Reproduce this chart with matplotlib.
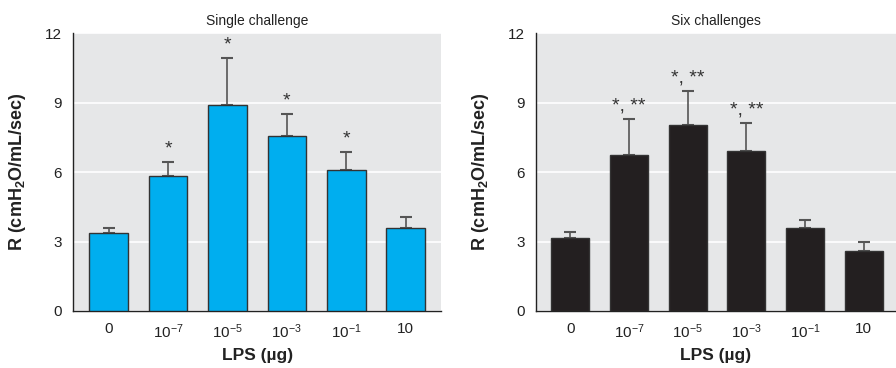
import matplotlib
matplotlib.use("Agg")
import matplotlib.pyplot as plt
from matplotlib import font_manager

names = [f.name for f in font_manager.fontManager.ttflist]
narrow = "Liberation Sans Narrow" if "Liberation Sans Narrow" in names else "Liberation Sans"
plt.rcParams['font.family'] = [narrow, 'DejaVu Sans']
plt.rcParams['mathtext.fontset'] = 'custom'
plt.rcParams['mathtext.rm'] = narrow
plt.rcParams['mathtext.it'] = narrow + ':italic'
plt.rcParams['mathtext.bf'] = narrow + ':bold'

doses = ["0", "$\\mathrm{10^{-7}}$", "$\\mathrm{10^{-5}}$", "$\\mathrm{10^{-3}}$",
         "$\\mathrm{10^{-1}}$", "10"]

single_mean = [3.37, 5.83, 8.9, 7.55, 6.07, 3.57]
single_err = [0.23, 0.62, 2.02, 0.95, 0.78, 0.49]
single_marks = ["", "*", "*", "*", "*", ""]

six_mean = [3.16, 6.75, 8.04, 6.92, 3.6, 2.57]
six_err = [0.26, 1.52, 1.46, 1.21, 0.31, 0.39]
six_marks = ["", "*, **", "*, **", "*, **", "", ""]

fig = plt.figure(figsize=(8.96, 3.68), dpi=100)
ax1 = fig.add_axes([0.0815, 0.155, 0.411, 0.755])
ax2 = fig.add_axes([0.598, 0.155, 0.402, 0.755])

panels = [
    (ax1, single_mean, single_err, single_marks, "#00aeef", "Single challenge", (-0.6, 5.6)),
    (ax2, six_mean, six_err, six_marks, "#231f20", "Six challenges", (-0.59, 5.55)),
]

for ax, mean, err, marks, color, title, xl in panels:
    ax.set_facecolor("#e6e7e8")
    x = range(len(mean))
    ax.bar(x, mean, width=0.65, color=color, edgecolor="#333333", linewidth=1.0, zorder=3,
           yerr=[[0] * len(err), err], error_kw=dict(ecolor="#555555", elinewidth=1.2,
                                                    capsize=4, capthick=1.5, zorder=2))
    for i, m in enumerate(marks):
        if m:
            ax.text(i, mean[i] + err[i] + 0.2, m, ha="center", va="bottom",
                    fontsize=14, color="#333333")
    ax.set_xlim(*xl)
    ax.set_ylim(0, 12)
    ax.set_yticks([0, 3, 6, 9, 12])
    ax.yaxis.grid(True, color="white", linewidth=1.2, zorder=0)
    ax.set_axisbelow(True)
    ax.set_xticks(list(x))
    ax.set_xticklabels(doses)
    ax.tick_params(axis="both", length=0, labelsize=11, colors="#222222")
    ax.tick_params(axis="x", pad=8)
    ax.tick_params(axis="y", pad=8)
    for s in ["top", "right"]:
        ax.spines[s].set_visible(False)
    for s in ["left", "bottom"]:
        ax.spines[s].set_color("#222222")
        ax.spines[s].set_linewidth(1.0)
    ax.set_title(title, fontsize=10, color="#222222", pad=6)
    ax.set_xlabel("LPS (µg)", fontsize=12.5, fontweight="bold", labelpad=5, color="#222222")
    ax.set_ylabel("R (cmH$_\\mathbf{2}$O/mL/sec)", fontsize=13, fontweight="bold",
                  labelpad=12, color="#222222")

fig.savefig("out.png", dpi=100)
